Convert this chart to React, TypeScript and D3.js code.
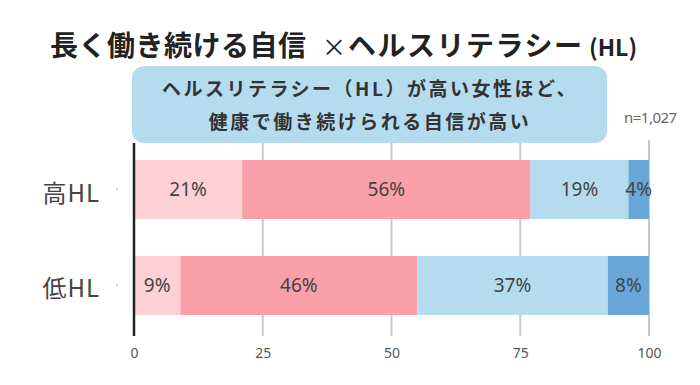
import { useEffect, useRef } from "react";
import * as d3 from "d3";

const categories = ["高HL", "低HL"];
const segmentKeys = ["s1", "s2", "s3", "s4"];
const highHL = [21, 56, 19, 4];
const lowHL = [9, 46, 37, 8];
const seriesValues = [highHL, lowHL];
const xTicks = [0, 25, 50, 75, 100];
const colors = ["#fdd0d4", "#f9a0aa", "#b5dcee", "#6aa7d9"];

const W = 700;
const H = 385;
const MARGIN = { top: 143, right: 51, bottom: 49, left: 134 };

export default function App() {
  const svgRef = useRef<SVGSVGElement>(null);

  useEffect(() => {
    if (!svgRef.current) return;
    const svg = d3.select(svgRef.current);
    svg.selectAll("*").remove();

    const innerW = W - MARGIN.left - MARGIN.right;
    const innerH = H - MARGIN.top - MARGIN.bottom;

    const x = d3.scaleLinear().domain([0, 100]).range([0, innerW]);
    const y = d3.scaleBand().domain(categories).range([17, 172]).paddingInner(0.385).paddingOuter(0);

    const rows = categories.map((c, i) => {
      const r: Record<string, number | string> = { cat: c };
      segmentKeys.forEach((k, j) => (r[k] = seriesValues[i][j]));
      return r;
    });
    const stack = d3.stack<Record<string, number | string>>().keys(segmentKeys)(rows as any);

    const g = svg.append("g").attr("transform", `translate(${MARGIN.left},${MARGIN.top})`);

    // gridlines
    g.append("g")
      .selectAll("line")
      .data(xTicks.slice(1))
      .join("line")
      .attr("x1", (d) => x(d))
      .attr("x2", (d) => x(d))
      .attr("y1", -3)
      .attr("y2", innerH)
      .attr("stroke", "#c8c8c8")
      .attr("stroke-width", 2);

    // bars
    stack.forEach((layer, li) => {
      g.append("g")
        .selectAll("rect")
        .data(layer)
        .join("rect")
        .attr("x", (d) => x(d[0]))
        .attr("y", (d) => y(d.data.cat as string)!)
        .attr("width", (d) => x(d[1]) - x(d[0]))
        .attr("height", y.bandwidth())
        .attr("fill", colors[li]);
    });

    // bar labels
    stack.forEach((layer) => {
      g.append("g")
        .selectAll("text")
        .data(layer)
        .join("text")
        .attr("x", (d) => (x(d[0]) + x(d[1])) / 2)
        .attr("y", (d) => y(d.data.cat as string)! + y.bandwidth() / 2)
        .attr("dy", "0.36em")
        .attr("text-anchor", "middle")
        .attr("font-family", "'Noto Sans', sans-serif")
        .attr("font-size", 19)
        .attr("fill", "#444")
        .text((d) => `${d[1] - d[0]}%`);
    });

    // baseline
    g.append("line")
      .attr("x1", 0)
      .attr("x2", 0)
      .attr("y1", 0)
      .attr("y2", innerH)
      .attr("stroke", "#222")
      .attr("stroke-width", 2.5);

    // x tick labels
    const xAxis = d3.axisBottom(x).tickValues(xTicks).tickSize(0).tickPadding(12);
    const xa = g.append("g").attr("transform", `translate(0,${innerH})`).call(xAxis);
    xa.select(".domain").remove();
    xa.selectAll("text")
      .attr("font-family", "'Noto Sans', sans-serif")
      .attr("font-size", 14)
      .attr("fill", "#555");

    // category labels
    const ya = g.append("g").call(d3.axisLeft(y).tickSize(0).tickPadding(34));
    ya.select(".domain").remove();
    ya.selectAll("text")
      .attr("font-family", "'Noto Sans CJK JP', sans-serif")
      .attr("font-size", 24)
      .attr("letter-spacing", 1)
      .attr("dy", "0.5em")
      .attr("fill", "#444");
    g.append("g")
      .selectAll("circle")
      .data(categories)
      .join("circle")
      .attr("cx", -17)
      .attr("cy", (d) => y(d)! + y.bandwidth() / 2)
      .attr("r", 1)
      .attr("fill", "#bbb");

    // callout bubble
    svg.append("rect")
      .attr("x", 132)
      .attr("y", 66)
      .attr("width", 475)
      .attr("height", 77)
      .attr("rx", 12)
      .attr("fill", "#b5dcee");
    const bubbleLines = ["ヘルスリテラシー（HL）が高い女性ほど、", "健康で働き続けられる自信が高い"];
    svg.append("g")
      .selectAll("text")
      .data(bubbleLines)
      .join("text")
      .attr("x", 370)
      .attr("y", (_, i) => 96 + i * 33)
      .attr("text-anchor", "middle")
      .attr("font-family", "'Noto Sans CJK JP', sans-serif")
      .attr("font-weight", 700)
      .attr("font-size", 19)
      .attr("letter-spacing", 2.5)
      .attr("fill", "#333")
      .text((d) => d);

    // n
    svg.append("text")
      .attr("x", 624)
      .attr("y", 123)
      .attr("font-family", "'Noto Sans', sans-serif")
      .attr("font-size", 15)
      .attr("letter-spacing", -0.5)
      .attr("fill", "#666")
      .text("n=1,027");

    // title
    const title = svg.append("text")
      .attr("y", 56)
      .attr("font-family", "'Noto Sans CJK JP', sans-serif")
      .attr("font-weight", 700)
      .attr("fill", "#222");
    title.append("tspan").attr("x", 50).attr("font-size", 28).attr("letter-spacing", 0.5).text("長く働き続ける自信");
    title.append("tspan").attr("x", 322).attr("font-size", 24).attr("font-weight", 400).text("×");
    title.append("tspan").attr("x", 348).attr("font-size", 28).attr("letter-spacing", 1.5).text("ヘルスリテラシー");
    title.append("tspan").attr("x", 589).attr("font-size", 23).text("(HL)");
  }, []);

  return (
    <svg
      ref={svgRef}
      width={W}
      height={H}
      style={{ display: "block", position: "absolute", left: 0, top: 0, background: "#fff" }}
    />
  );
}
